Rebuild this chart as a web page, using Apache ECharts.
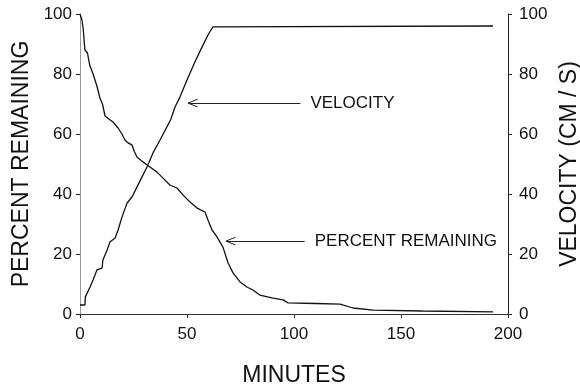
<!DOCTYPE html>
<html>
<head>
<meta charset="utf-8">
<script src="https://cdn.jsdelivr.net/npm/echarts@6/dist/echarts.min.js"></script>
<style>
  html, body { margin: 0; padding: 0; background: #fff; }
  #chart { width: 580px; height: 388px; }
</style>
</head>
<body>
<div id="chart"></div>
<script>
// percent remaining vs minutes
const remainMinutes = [0, 0.9, 1.5, 2.3, 3.5, 4.5, 6.1, 7.9, 9.3, 10.5, 11.7, 13.5, 15.4, 17.8, 19.6, 21, 22, 24.3, 25.5, 26.6,
  29.4, 32.7, 36, 38.8, 42, 45.3, 48.1, 51.4, 54.7, 58.4, 59.8, 61.7, 64, 66.8, 69.2, 71.5, 74.8, 78, 80.8, 84,
  90.2, 94.9, 97.2, 110, 121.5, 127.6, 137, 160, 193];
const remainPct = [100, 98, 95, 88, 87, 83, 80, 76, 72, 70, 66, 65, 64, 62, 60, 58, 57.3, 56.3, 54, 52.3,
  50.7, 49, 47.3, 45.3, 43, 42, 39.7, 37.3, 35.3, 34, 31.3, 28, 25.7, 22.3, 17, 13.7, 10.7, 9, 8, 6.3,
  5.3, 4.7, 3.7, 3.5, 3.3, 2, 1.3, 1, 0.7];

// velocity vs minutes
const velMinutes = [0, 2.3, 2.5, 4.7, 6.1, 7.9, 10.3, 10.7, 12.5, 14, 16.4, 17.8, 19.6, 22, 24.3, 26.6, 29, 31.3, 34.1, 37.4,
  40.7, 42.5, 44.4, 46.7, 50, 53.7, 57.5, 59.8, 62.1, 63, 193];
const velValues = [3, 3, 5.7, 9, 11.3, 14.7, 15.3, 18, 21, 24, 25.3, 28, 32.3, 37, 39, 42.3, 45.7, 49, 53.7, 58,
  62.5, 65, 69, 72.3, 78, 84, 89.7, 93, 95.7, 96, 96];

const xTicks = [0, 50, 100, 150, 200];
const yTicks = [0, 20, 40, 60, 80, 100];

// annotation arrows: [tailX, tipX, y] in data units, with label text
const annotations = [
  { text: 'VELOCITY', tail: 103, tip: 50.5, y: 70.3 },
  { text: 'PERCENT REMAINING', tail: 105, tip: 68.2, y: 24.3 }
];

const font = 'Liberation Sans, Arial, sans-serif';

function pairs(xs, ys) {
  return xs.map((x, i) => [x, ys[i]]);
}

function arrowLines() {
  let lines = [];
  annotations.forEach(a => {
    lines.push([{ coord: [a.tail, a.y] }, { coord: [a.tip, a.y] }]);
    lines.push([{ coord: [a.tip, a.y] }, { coord: [a.tip + 4.5, a.y + 1.3] }]);
    lines.push([{ coord: [a.tip, a.y] }, { coord: [a.tip + 4.5, a.y - 1.3] }]);
  });
  return lines;
}

const chart = echarts.init(document.getElementById('chart'));

const valueAxis = (pos, lineColor) => ({
  type: 'value',
  position: pos,
  min: yTicks[0],
  max: yTicks[yTicks.length - 1],
  interval: 20,
  axisLine: { show: true, lineStyle: { color: lineColor, width: 1 } },
  axisTick: { show: true, inside: false, length: 4, lineStyle: { color: '#222' } },
  axisLabel: {
    color: '#111', fontSize: 17, fontFamily: font, margin: pos === 'left' ? 8 : 11
  },
  splitLine: { show: false },
  nameLocation: 'middle',
  nameTextStyle: { color: '#111', fontSize: 23, fontFamily: font }
});

const yLeft = valueAxis('left', '#999');
yLeft.name = 'PERCENT REMAINING';
yLeft.nameGap = 37;
const yRight = valueAxis('right', '#222');
yRight.name = 'VELOCITY (CM / S)';
yRight.nameGap = 40;

chart.setOption({
  animation: false,
  backgroundColor: '#fff',
  grid: { left: 80, right: 72, top: 14, bottom: 74, containLabel: false, outerBoundsMode: 'none' },
  xAxis: {
    type: 'value',
    min: xTicks[0],
    max: xTicks[xTicks.length - 1],
    interval: 50,
    name: 'MINUTES',
    nameLocation: 'middle',
    nameGap: 50,
    nameTextStyle: { color: '#111', fontSize: 23, fontFamily: font },
    axisLine: { show: true, onZero: false, lineStyle: { color: '#333' } },
    axisTick: { show: true, length: 4, lineStyle: { color: '#333' } },
    axisLabel: { color: '#111', fontSize: 17, fontFamily: font, margin: 12 },
    splitLine: { show: false }
  },
  yAxis: [yLeft, yRight],
  series: [
    {
      name: 'Percent remaining',
      type: 'line',
      yAxisIndex: 0,
      data: pairs(remainMinutes, remainPct),
      showSymbol: false,
      lineStyle: { color: '#111', width: 1.3 },
      markLine: {
        silent: true,
        symbol: ['none', 'none'],
        label: { show: false },
        lineStyle: { color: '#222', width: 1, type: 'solid' },
        data: arrowLines()
      }
    },
    {
      name: 'Velocity',
      type: 'line',
      yAxisIndex: 1,
      data: pairs(velMinutes, velValues),
      showSymbol: false,
      lineStyle: { color: '#111', width: 1.3 }
    }
  ]
});

// annotation texts next to the arrow tails
const texts = annotations.map(a => {
  const p = chart.convertToPixel({ gridIndex: 0 }, [a.tail, a.y]);
  return {
    type: 'text',
    x: p[0] + 10,
    y: p[1],
    style: { text: a.text, fill: '#111', fontSize: 17, fontFamily: font, verticalAlign: 'middle' }
  };
});
chart.setOption({ graphic: texts });
</script>
</body>
</html>
